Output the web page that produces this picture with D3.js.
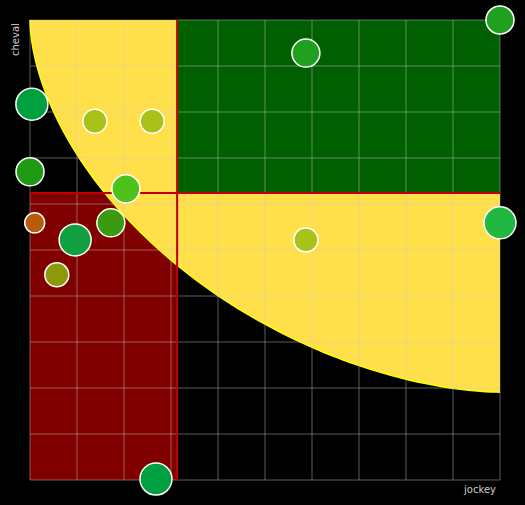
<!DOCTYPE html>
<html><head><meta charset="utf-8">
<script src="https://cdn.jsdelivr.net/npm/d3@7"></script>
<style>body{margin:0;background:#000}</style>
</head><body><div id="chart"></div>
<script>
const xs = [10, 5.87, 0.04, 1.38, 2.6, 0, 2.04, 0.1, 1.72, 0.96, 0.57, 5.87, 10, 2.68];
const ys = [10, 9.28, 8.17, 7.8, 7.8, 6.7, 6.33, 5.59, 5.59, 5.22, 4.46, 5.22, 5.59, 0.02];
const radii = [14, 14, 16, 12, 12, 14, 14, 10, 14, 16, 12, 12, 16, 16];
const colors = ["#1fa01f", "#1fa01f", "#00a040", "#a8c21a", "#a8c21a", "#1e9a14", "#4cc21a", "#b85c0a", "#3a9a10", "#10a040", "#8c9a0a", "#a8c21a", "#20b840", "#00a040"];
const splitX = 3.13, splitY = 6.24, arcY = 8.09, arcPow = 1.75;

const width = 525, height = 505;
const svg = d3.select("#chart").append("svg").attr("width", width).attr("height", height);
const x = d3.scaleLinear().domain([0, 10]).range([30, 500]);
const y = d3.scaleLinear().domain([0, 10]).range([480, 20]);

svg.append("rect").attr("x", x(0)).attr("y", y(splitY)).attr("width", x(splitX) - x(0))
  .attr("height", y(0) - y(splitY)).attr("fill", "#800000");

// superellipse boundary anchored at the top-right corner
const arc = d3.range(0, 1.0001, 0.01).map(t => {
  const u = Math.pow(Math.cos(t * Math.PI / 2), 2 / arcPow);
  const v = Math.pow(Math.sin(t * Math.PI / 2), 2 / arcPow);
  return [x(10 - 10 * u), y(10 - arcY * v)];
});
const shape = [[x(10), y(10)], ...arc];
svg.append("path").attr("d", d3.line()(shape) + "Z").attr("fill", "#ffe04a");
svg.append("path").attr("d", d3.line()(arc)).attr("fill", "none").attr("stroke", "#ffff00").attr("stroke-width", 1.5);

svg.append("rect").attr("x", x(splitX)).attr("y", y(10)).attr("width", x(10) - x(splitX))
  .attr("height", y(splitY) - y(10)).attr("fill", "#005f00");

const g = svg.append("g").attr("stroke", "rgba(200,200,200,0.45)");
d3.range(0, 11).forEach(i => {
  g.append("line").attr("x1", x(i)).attr("x2", x(i)).attr("y1", y(0)).attr("y2", y(10));
  g.append("line").attr("y1", y(i)).attr("y2", y(i)).attr("x1", x(0)).attr("x2", x(10));
});

svg.append("line").attr("x1", x(splitX)).attr("x2", x(splitX)).attr("y1", y(0)).attr("y2", y(10))
  .attr("stroke", "#c00000").attr("stroke-width", 2);
svg.append("line").attr("x1", x(0)).attr("x2", x(10)).attr("y1", y(splitY)).attr("y2", y(splitY))
  .attr("stroke", "#c00000").attr("stroke-width", 2);

svg.selectAll("circle.pt").data(xs).enter().append("circle").attr("class", "pt")
  .attr("cx", (d) => x(d)).attr("cy", (d, i) => y(ys[i])).attr("r", (d, i) => radii[i])
  .attr("fill", (d, i) => colors[i]).attr("stroke", "#fff").attr("stroke-width", 1.5);

svg.append("text").attr("transform", "translate(19,56) rotate(-90)").attr("fill", "#ccc")
  .attr("font-family", "DejaVu Sans, sans-serif").attr("font-size", 10).text("cheval");
svg.append("text").attr("x", 496).attr("y", 493).attr("text-anchor", "end").attr("fill", "#ccc")
  .attr("font-family", "DejaVu Sans, sans-serif").attr("font-size", 10).text("jockey");
</script></body></html>
